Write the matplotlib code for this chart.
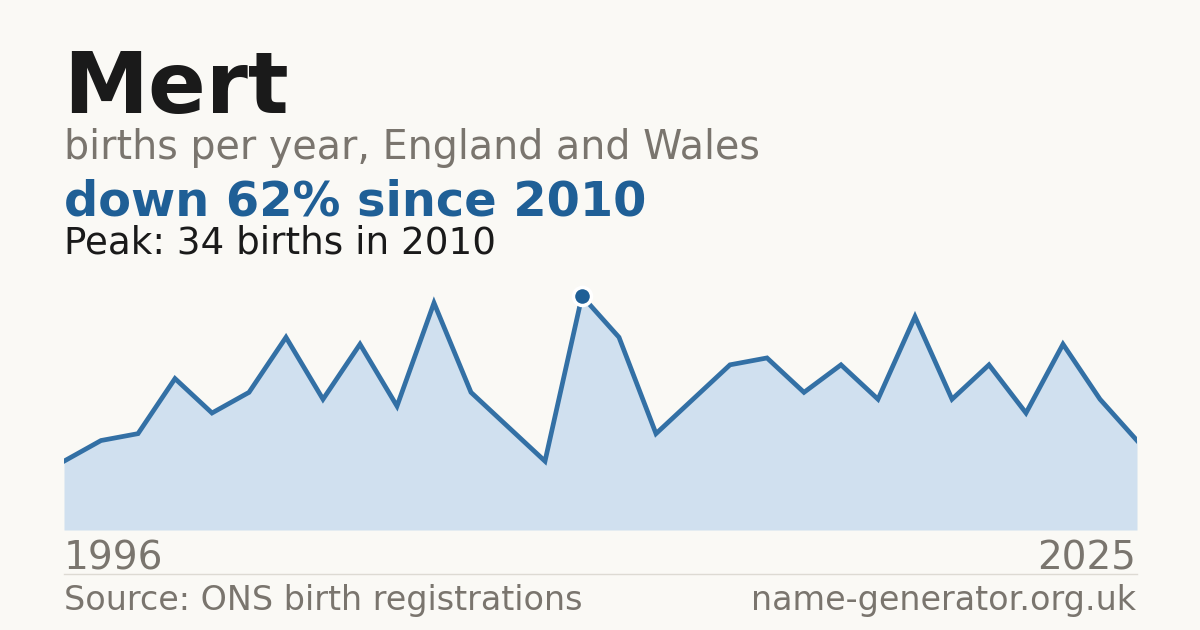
import matplotlib
matplotlib.use('Agg')
import matplotlib.pyplot as plt

plt.rcParams['font.family'] = ['DejaVu Sans']

# Births per year for the name, England and Wales
years = list(range(1996, 2026))
births = [10, 13, 14, 22, 17, 20, 28, 19, 27, 18,
          33, 20, 15, 10, 34, 28, 14, 19, 24, 25,
          20, 24, 19, 31, 19, 24, 17, 27, 19, 13]

name = 'Mert'
subtitle = 'births per year, England and Wales'
headline = 'down 62% since 2010'
peak_note = 'Peak: 34 births in 2010'
source = 'Source: ONS birth registrations'
site = 'name-generator.org.uk'

BG = '#faf9f5'
BLUE = '#1f5f96'
FILL = '#d0e0ef'
GREY = '#7a756e'
DARK = '#1a1a1a'

W, H = 1200, 630
fig = plt.figure(figsize=(12, 6.3), dpi=100, facecolor=BG)


def fx(px):
    return px / W


def fy(py):
    return 1 - py / H


# Plot area: x 64..1137 px, value 0 at y=530, peak at y=296
ax = fig.add_axes([fx(64), fy(530), fx(1137) - fx(64), (530 - 296) / H])
ax.set_facecolor(BG)
ax.fill_between(years, births, 0, color=FILL, linewidth=0)
ax.plot(years, births, color='#3370a5', linewidth=3.4, solid_joinstyle='miter')

peak_i = births.index(max(births))
ax.plot(years[peak_i], births[peak_i], 'o', color=BLUE, markersize=13,
        markeredgecolor='white', markeredgewidth=2.5, clip_on=False, zorder=5)

ax.set_xlim(years[0], years[-1])
ax.set_ylim(0, max(births))
ax.axis('off')

# Header texts
fig.text(fx(63), fy(113), name, fontsize=61.5, fontweight='bold', color=DARK, va='baseline')
fig.text(fx(64), fy(159), subtitle, fontsize=28.5, color=GREY, va='baseline')
fig.text(fx(64), fy(215), headline, fontsize=34.5, fontweight='bold', color=BLUE, va='baseline')
fig.text(fx(64), fy(254), peak_note, fontsize=26.8, color=DARK, va='baseline')

# Year labels
fig.text(fx(64), fy(570), str(years[0]), fontsize=28, color=GREY, va='baseline')
fig.text(fx(1136), fy(570), str(years[-1]), fontsize=28, color=GREY, va='baseline', ha='right')

# Separator
fig.add_artist(plt.Line2D([fx(64), fx(1137)], [fy(574), fy(574)], color='#dddad3', linewidth=1))

# Footer
fig.text(fx(64), fy(610), source, fontsize=24, color=GREY, va='baseline')
fig.text(fx(1136), fy(610), site, fontsize=24, color=GREY, va='baseline', ha='right')

plt.savefig('out.png', dpi=100, facecolor=BG)
plt.close()
